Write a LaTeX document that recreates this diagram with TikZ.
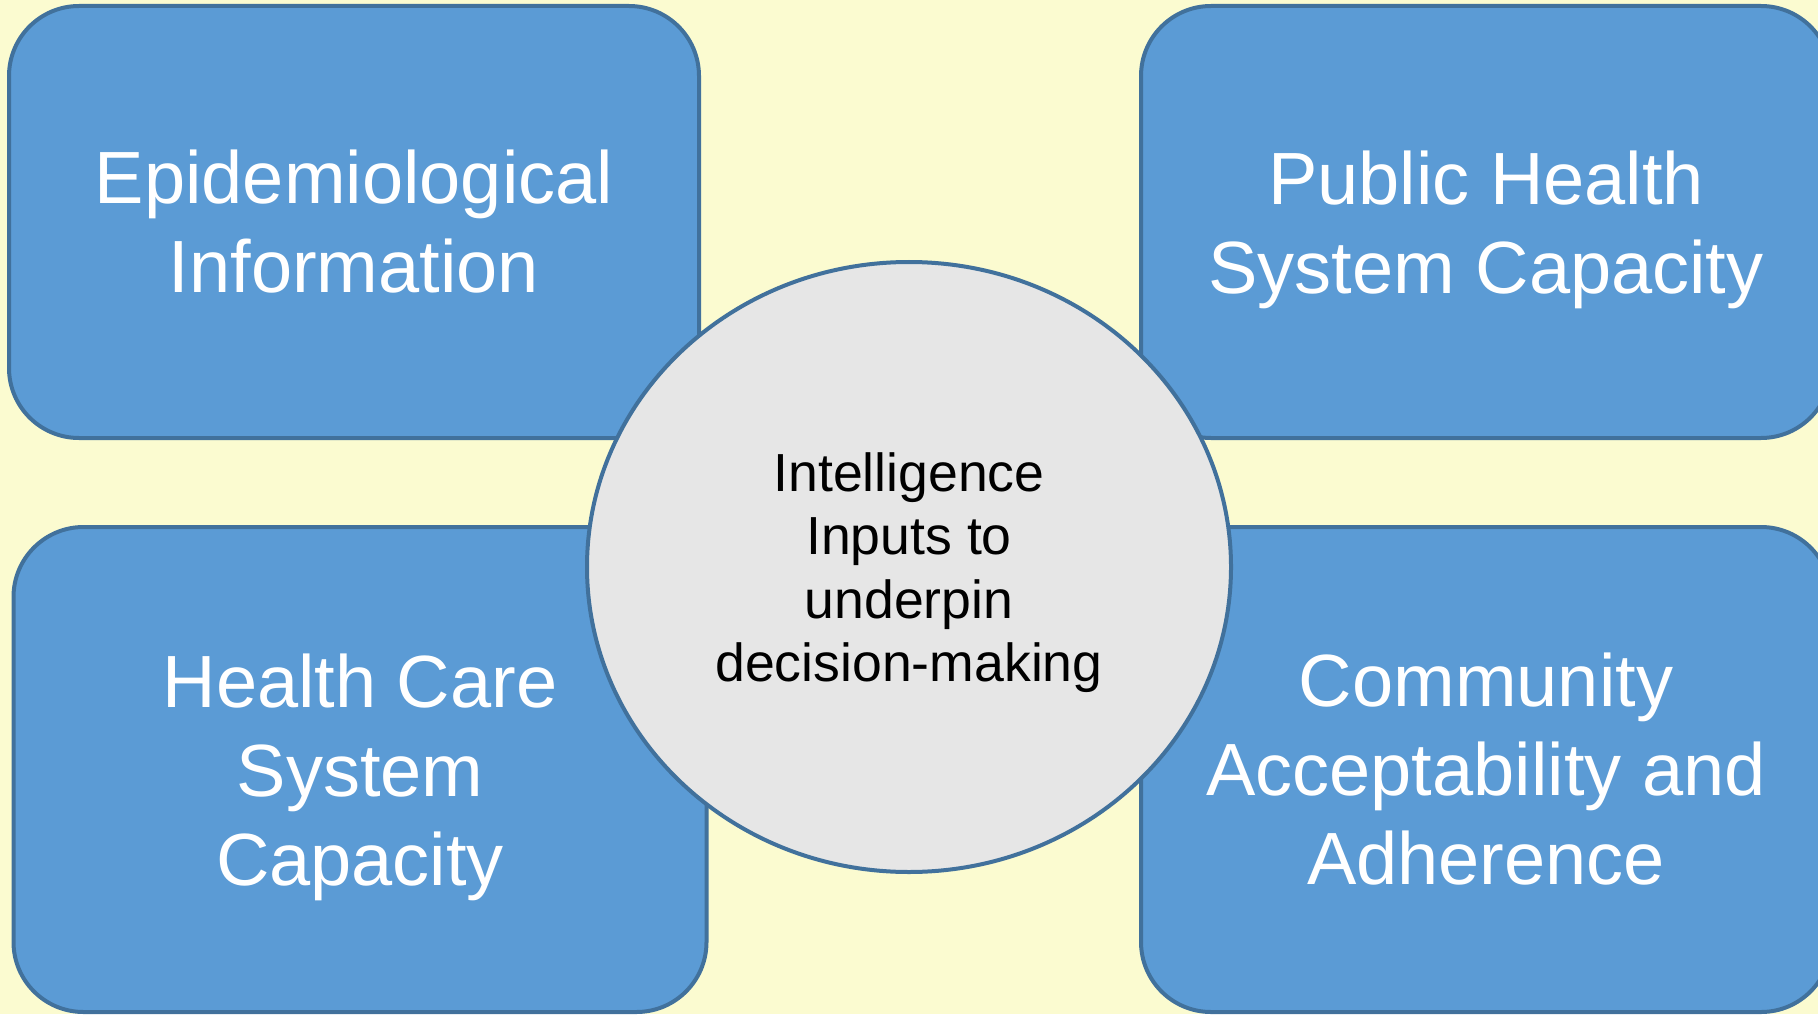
\documentclass[tikz,border=0pt]{standalone}
\usepackage{fontspec}
\setmainfont{Liberation Sans}
\usetikzlibrary{shapes.geometric}
\definecolor{bgyellow}{HTML}{FBFBD0}
\definecolor{boxblue}{HTML}{5B9BD5}
\definecolor{edgeblue}{HTML}{41719C}
\definecolor{ovalgray}{HTML}{E6E6E6}
% last line without its descender depth
\newcommand{\nodesc}[1]{\raisebox{0pt}[\height][0pt]{#1}}
\begin{document}
\begin{tikzpicture}[x=0.5pt, y=0.5pt,
	inputbox/.style={draw=edgeblue, line width=2pt, fill=boxblue, rounded corners=35pt,
		text=white, align=center, inner sep=0pt,
		font=\fontsize{37}{44.5}\selectfont},
	hub/.style={ellipse, draw=edgeblue, line width=2pt, fill=ovalgray, inner sep=0pt,
		minimum width=322pt, minimum height=305pt, align=center,
		font=\fontsize{26.8}{31.75}\selectfont}]
	\clip (0,0) rectangle (1818,1014);
	\fill[bgyellow] (0,0) rectangle (1818,1014);
	% the four inputs
	\node[inputbox, minimum width=345pt, minimum height=216pt] (epi) at (354,792) {Epidemiological\\Information};
	\node[inputbox, minimum width=345pt, minimum height=216pt] (phs) at (1486,792) {Public Health\\\nodesc{System Capacity}};
	\node[inputbox, minimum width=346.5pt, minimum height=242.5pt] (hcs) at (360,244.5) {Health Care\\System\\\nodesc{Capacity}};
	\node[inputbox, minimum width=345pt, minimum height=242.5pt] (com) at (1486,244.5) {Community\\Acceptability and\\Adherence};
	% centre
	\node[hub] (intel) at (909,447) {Intelligence\\Inputs to\\underpin\\\nodesc{decision-making}};
\end{tikzpicture}
\end{document}
